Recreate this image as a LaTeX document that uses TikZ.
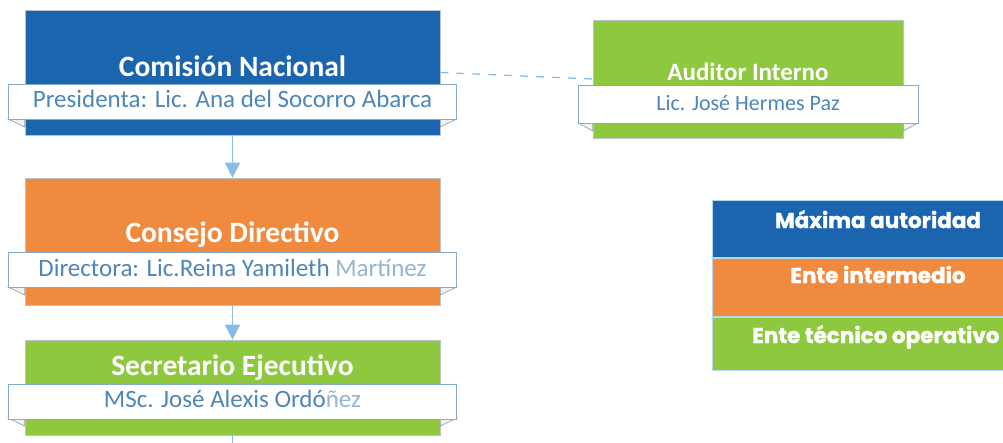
\documentclass[tikz,border=0pt]{standalone}
\usepackage{fontspec}
\setmainfont{Carlito}
\newfontfamily\legendfont{Poppins}[BoldFeatures={FakeBold=1.5}]
\usetikzlibrary{positioning,arrows.meta}
\definecolor{maxblue}{HTML}{1B64AE}
\definecolor{midorange}{HTML}{F08A3E}
\definecolor{opgreen}{HTML}{8DC83F}
\definecolor{namecol}{HTML}{4E86B6}
\definecolor{lightname}{HTML}{93B4D3}
\definecolor{linkblue}{HTML}{86BDE8}
\definecolor{edgegray}{HTML}{8A9BA8}

\begin{document}
\begin{tikzpicture}[x=1pt,y=-1pt,
  unit/.style={draw=edgegray!60, line width=0.6pt, minimum width=415pt, inner sep=0pt},
  band/.style={draw=linkblue!70!gray, fill=white, line width=0.8pt, minimum width=448pt,
    text height=18pt, text depth=6pt, inner xsep=0pt, inner ysep=5.5pt,
    font=\fontsize{25}{28}\selectfont, text=namecol},
  fold/.style={draw=edgegray, fill=gray!10, line width=0.6pt},
  title/.style={anchor=base, text=white, font=\fontsize{29.5}{34}\selectfont\bfseries},
  link/.style={draw=linkblue, line width=1.3pt},
  legendrow/.style={fill=#1, draw=linkblue!60, line width=1pt, minimum width=332pt, inner sep=0pt},
  legendtext/.style={anchor=base, text=white, font=\legendfont\fontsize{21.5}{25}\selectfont\bfseries}
]
\useasboundingbox (0,0) rectangle (1003,442);

\node[unit, fill=maxblue, minimum height=125pt] (comision) at (232.5,72.5) {};
\node[title] (comisiontitle) at (232.5,76) {Comisión Nacional};
\draw[fold] (8,119) -- (comision.west |- 0,119) -- ++(0,8) -- cycle;
\draw[fold] (457,119) -- (comision.east |- 0,119) -- ++(0,8) -- cycle;
\node[band] (comisionband) at (232.5,101.5) {Presidenta: Lic. Ana del Socorro Abarca};

\node[unit, fill=midorange, minimum height=127pt] (consejo) at (232.5,241.5) {};
\node[title] (consejotitle) at (232.5,242) {Consejo Directivo};
\draw[fold] (8,287) -- (consejo.west |- 0,287) -- ++(0,8) -- cycle;
\draw[fold] (457,287) -- (consejo.east |- 0,287) -- ++(0,8) -- cycle;
\node[band, minimum height=34pt] (consejoband) at (232.5,270) {Directora: Lic.Reina Yamileth \textcolor{lightname}{Martínez}};

\node[unit, fill=opgreen, minimum height=95pt] (secretario) at (232.5,387.5) {};
\node[title] (secretariotitle) at (232.5,375) {Secretario Ejecutivo};
\draw[fold] (8,418) -- (secretario.west |- 0,418) -- ++(0,8) -- cycle;
\draw[fold] (457,418) -- (secretario.east |- 0,418) -- ++(0,8) -- cycle;
\node[band, minimum height=33pt] (secretarioband) at (232.5,401.5) {MSc. José Alexis Ordó\textcolor{lightname}{ñez}};

\node[unit, fill=opgreen, minimum width=310pt, minimum height=118pt] (auditor) at (748,79) {};
\node[title, font=\fontsize{25}{30}\selectfont\bfseries] (auditortitle) at (748,80) {Auditor Interno};
\draw[fold] (578,123) -- (auditor.west |- 0,123) -- ++(0,8) -- cycle;
\draw[fold] (918,123) -- (auditor.east |- 0,123) -- ++(0,8) -- cycle;
\node[band, minimum width=340pt, minimum height=38pt, font=\fontsize{22}{26}\selectfont] (auditorband) at (748,104) {Lic. José Hermes Paz};

\coordinate (tail) at (232.5,450);
\draw[link, -{Triangle[width=15pt,length=15pt]}] (comision) -- (consejo);
\draw[link, -{Triangle[width=15pt,length=15pt]}] (consejo) -- (secretario);
\draw[link] (secretario) -- (tail);
\draw[link, dash pattern=on 8pt off 8pt] (comision.east) -- (auditor.west);

\node[legendrow=maxblue, minimum height=57pt, anchor=north west] (maxrow) at (712,200) {};
\node[legendrow=midorange, minimum height=58pt, below=0pt of maxrow] (midrow) {};
\node[legendrow=opgreen, minimum height=53pt, below=0pt of midrow] (oprow) {};
\node[legendtext] (maxtext) at (878,228) {Máxima autoridad};
\node[legendtext] (midtext) at (878,283) {Ente intermedio};
\node[legendtext, anchor=base west, inner xsep=0pt] (optext) at (752,343) {Ente técnico operativo};
\end{tikzpicture}
\end{document}
